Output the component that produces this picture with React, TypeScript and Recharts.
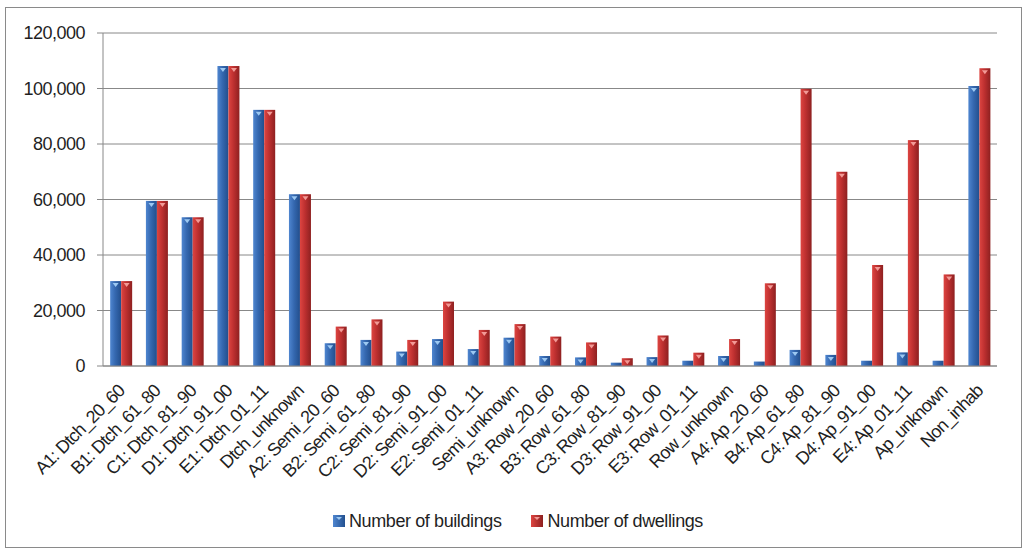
import { BarChart, Bar, XAxis, YAxis, CartesianGrid, Legend } from 'recharts';

const categories = [
    'A1: Dtch_20_60', 'B1: Dtch_61_80', 'C1: Dtch_81_90', 'D1: Dtch_91_00', 'E1: Dtch_01_11', 'Dtch_unknown',
    'A2: Semi_20_60', 'B2: Semi_61_80', 'C2: Semi_81_90', 'D2: Semi_91_00', 'E2: Semi_01_11', 'Semi_unknown',
    'A3: Row_20_60', 'B3: Row_61_80', 'C3: Row_81_90', 'D3: Row_91_00', 'E3: Row_01_11', 'Row_unknown',
    'A4: Ap_20_60', 'B4: Ap_61_80', 'C4: Ap_81_90', 'D4: Ap_91_00', 'E4: Ap_01_11', 'Ap_unknown',
    'Non_inhab',
];

const buildings = [
    30600, 59500, 53600, 108100, 92300, 61900,
    8200, 9400, 5200, 9700, 6100, 10200,
    3600, 3100, 1200, 3200, 1900, 3600,
    1600, 5800, 4000, 1900, 4900, 1900,
    100900,
];

const dwellings = [
    30600, 59500, 53600, 108100, 92300, 61900,
    14200, 16800, 9400, 23200, 13000, 15100,
    10600, 8500, 2800, 11000, 4800, 9700,
    29800, 99900, 70000, 36400, 81400, 33000,
    107300,
];

const yTicks = [0, 20000, 40000, 60000, 80000, 100000, 120000];

const data = categories.map((name, i) => ({ name, buildings: buildings[i], dwellings: dwellings[i] }));
const boundaryTicks = categories.map((_, i) => i).concat(categories.length);

const FONT = '"Liberation Sans", Arial, sans-serif';

const GradBar = (props: any) => {
    const { x, y, width, height, fill, tri } = props;
    if (!height || height <= 0) return null;
    const cx = x + width / 2;
    const t = Math.min(4, height);
    return (
        <g>
            <rect x={x} y={y} width={width} height={height} fill={fill} />
            {height > 6 && (
                <path d={`M${cx - 3},${y + 2} L${cx + 3},${y + 2} L${cx},${y + 2 + t} Z`} fill={tri} />
            )}
        </g>
    );
};

const XTick = (props: any) => {
    const { x, y, payload } = props;
    return (
        <g transform={`translate(${x + 5},${y + 18})`}>
            <text x={0} y={0} textAnchor="end" transform="rotate(-45)" fill="#1f1f1f" fontSize={18} letterSpacing={-0.8} fontFamily={FONT}>
                {payload.value}
            </text>
        </g>
    );
};

const LegendIcon = ({ from, to, tri }: { from: string; to: string; tri: string }) => (
    <svg width={12} height={12} style={{ display: 'block' }}>
        <defs>
            <linearGradient id={`lg${from}`} x1="0" y1="0" x2="1" y2="0">
                <stop offset="0%" stopColor={from} />
                <stop offset="100%" stopColor={to} />
            </linearGradient>
        </defs>
        <rect x={0} y={0} width={12} height={12} fill={`url(#lg${from})`} />
        <path d="M3,2 L9,2 L6,5 Z" fill={tri} />
    </svg>
);

const LegendBox = () => (
    <div style={{ height: 30, display: 'flex', alignItems: 'center', paddingLeft: 327, fontFamily: FONT, fontSize: 18, letterSpacing: -0.4, color: '#1f1f1f' }}>
        <LegendIcon from="#4f86d0" to="#23508f" tri="#9cc8f2" />
        <span style={{ marginLeft: 4 }}>Number of buildings</span>
        <span style={{ width: 30 }} />
        <LegendIcon from="#dd4541" to="#8e2020" tri="#f29a96" />
        <span style={{ marginLeft: 4 }}>Number of dwellings</span>
    </div>
);

export default function App() {
    return (
        <div style={{ position: 'absolute', left: 5, top: 7, width: 1015, height: 539, border: '1px solid #8a8a8a', background: '#fff' }}>
            <BarChart
                width={1015}
                height={539}
                data={data}
                margin={{ top: 25, right: 24, left: 0, bottom: 11 }}
                barCategoryGap="20%"
                barGap={0}
            >
                <defs>
                    <linearGradient id="gBlue" x1="0" y1="0" x2="1" y2="0">
                        <stop offset="0%" stopColor="#4f86d0" />
                        <stop offset="45%" stopColor="#3568b0" />
                        <stop offset="100%" stopColor="#224e8c" />
                    </linearGradient>
                    <linearGradient id="gRed" x1="0" y1="0" x2="1" y2="0">
                        <stop offset="0%" stopColor="#dd4541" />
                        <stop offset="45%" stopColor="#be3030" />
                        <stop offset="100%" stopColor="#8e2020" />
                    </linearGradient>
                </defs>
                <CartesianGrid vertical={false} stroke="#888888" />
                <XAxis
                    xAxisId="b"
                    type="number"
                    domain={[0, categories.length]}
                    ticks={boundaryTicks}
                    allowDataOverflow
                    height={0}
                    tick={false}
                    tickSize={6}
                    axisLine={false}
                    tickLine={{ stroke: '#888888' }}
                />
                <XAxis
                    dataKey="name"
                    interval={0}
                    height={140}
                    tickLine={false}
                    axisLine={{ stroke: '#888888' }}
                    tick={<XTick />}
                />
                <YAxis
                    width={97}
                    domain={[0, 120000]}
                    ticks={yTicks}
                    tickFormatter={(v: number) => v.toLocaleString('en-US')}
                    tick={{ fill: '#1f1f1f', fontSize: 18, fontFamily: FONT, letterSpacing: -0.5 }}
                    tickSize={6}
                    tickMargin={12}
                    axisLine={{ stroke: '#888888' }}
                    tickLine={{ stroke: '#888888' }}
                />
                <Legend verticalAlign="bottom" height={30} content={<LegendBox />} />
                <Bar dataKey="buildings" fill="url(#gBlue)" shape={(p: any) => <GradBar {...p} tri="#9cc8f2" />} isAnimationActive={false} />
                <Bar dataKey="dwellings" fill="url(#gRed)" shape={(p: any) => <GradBar {...p} tri="#f29a96" />} isAnimationActive={false} />
            </BarChart>
        </div>
    );
}
